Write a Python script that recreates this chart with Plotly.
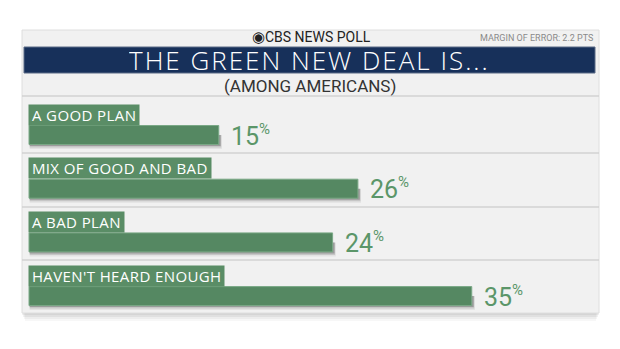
import plotly.graph_objects as go

# Survey results
categories = ["A GOOD PLAN", "MIX OF GOOD AND BAD", "A BAD PLAN", "HAVEN'T HEARD ENOUGH"]
values = [15, 26, 24, 35]

title = "THE GREEN NEW DEAL IS..."
subtitle = "(AMONG AMERICANS)"
brand = "CBS NEWS POLL"
margin_note = "MARGIN OF ERROR: 2.2 PTS"

W, H = 620, 349
BAR_GREEN = "#558862"
TAG_GREEN = "#5a8d66"
NUM_GREEN = "#5b9669"
NAVY = "#17305a"

# Axis scaling: x in percentage points, y in row index
X0_PX, PX_PER_PCT = 29, 12.65
Y0_PX, PX_PER_ROW = 135, 53.7
x_range = [-X0_PX / PX_PER_PCT, (W - X0_PX) / PX_PER_PCT]
y_range = [(H - Y0_PX) / PX_PER_ROW, -Y0_PX / PX_PER_ROW]
BAR_W = 19 / PX_PER_ROW


def px(x):
    return x / W


def py(y):
    return 1 - y / H


rows = list(range(len(categories)))

fig = go.Figure()
fig.add_trace(go.Bar(
    x=values, y=rows, orientation="h", width=BAR_W,
    marker=dict(color=BAR_GREEN, line=dict(color="#7aa886", width=1)),
    hoverinfo="skip",
))

shapes = []
# panel drop shadow
for k, op in enumerate([0.05, 0.05, 0.04, 0.03]):
    shapes.append(dict(type="rect", xref="paper", yref="paper", layer="below",
                       x0=px(22 + k), x1=px(599 - k), y0=py(313 + 2 + 2 * k), y1=py(40),
                       fillcolor="#000000", opacity=op, line=dict(width=0)))
# panel
shapes.append(dict(type="rect", xref="paper", yref="paper", layer="below",
                   x0=px(22), x1=px(599), y0=py(313), y1=py(30),
                   fillcolor="#f1f1f1", line=dict(color="#dedede", width=1)))
# title band
shapes.append(dict(type="rect", xref="paper", yref="paper", layer="below",
                   x0=px(24), x1=px(595), y0=py(73), y1=py(47),
                   fillcolor=NAVY, line=dict(color="#5b6b86", width=1)))
# row separators
for ysep in [96, 153, 207, 260]:
    shapes.append(dict(type="line", xref="paper", yref="paper", layer="below",
                       x0=px(22), x1=px(599), y0=py(ysep), y1=py(ysep),
                       line=dict(color="#d2d2d2", width=1.5)))
# soft shadows under the bars
for i, v in zip(rows, values):
    for k, op in enumerate([0.22, 0.12, 0.06]):
        shapes.append(dict(type="rect", xref="x", yref="y", layer="below",
                           x0=0.05, x1=v + 0.15 + 0.05 * k,
                           y0=i, y1=i + BAR_W / 2 + (1.5 + 1.5 * k) / PX_PER_ROW,
                           fillcolor="#000000", opacity=op, line=dict(width=0)))

annotations = [
    dict(text=f"<span style='font-size:15px'>◉</span>{brand}",
         xref="paper", yref="paper", x=px(311), y=py(37), height=16,
         showarrow=False, font=dict(family="Roboto", size=14, color="#222222"),
         xanchor="center", yanchor="middle"),
    dict(text=margin_note, xref="paper", yref="paper", x=px(595), y=py(38),
         showarrow=False, font=dict(family="Roboto", size=9, color="#8a8a8a"),
         xanchor="right", yanchor="middle"),
    dict(text=f"<span style='letter-spacing:2px'>{title}</span>",
         xref="paper", yref="paper", x=px(309), y=py(60), height=24,
         showarrow=False, font=dict(family="Open Sans", size=26, color="white", weight=300),
         xanchor="center", yanchor="middle"),
    dict(text=subtitle, xref="paper", yref="paper", x=px(310), y=py(86),
         showarrow=False, font=dict(family="Roboto", size=17, color="#333333"),
         xanchor="center", yanchor="middle"),
]

for i, (cat, v) in enumerate(zip(categories, values)):
    annotations.append(dict(
        text=f"<span style='letter-spacing:0.4px'>\u2009{cat}\u2009</span>",
        x=-1 / PX_PER_PCT, y=i - 20.5 / PX_PER_ROW, xref="x", yref="y",
        showarrow=False, xanchor="left", yanchor="middle",
        bgcolor=TAG_GREEN, borderpad=0,
        font=dict(family="Open Sans", size=15, color="white"),
    ))
    annotations.append(dict(
        text=f"{v}<sup><span style='font-size:15px'>%</span></sup>",
        x=v, y=i, xref="x", yref="y", xshift=10,
        showarrow=False, xanchor="left", yanchor="middle",
        font=dict(family="Roboto", size=25, color=NUM_GREEN),
    ))

fig.update_layout(
    width=W, height=H,
    margin=dict(l=0, r=0, t=0, b=0),
    paper_bgcolor="white", plot_bgcolor="rgba(0,0,0,0)",
    showlegend=False,
    xaxis=dict(range=x_range, visible=False, fixedrange=True),
    yaxis=dict(range=y_range, visible=False, fixedrange=True),
    shapes=shapes,
    annotations=annotations,
)

fig.write_html("out.html")
